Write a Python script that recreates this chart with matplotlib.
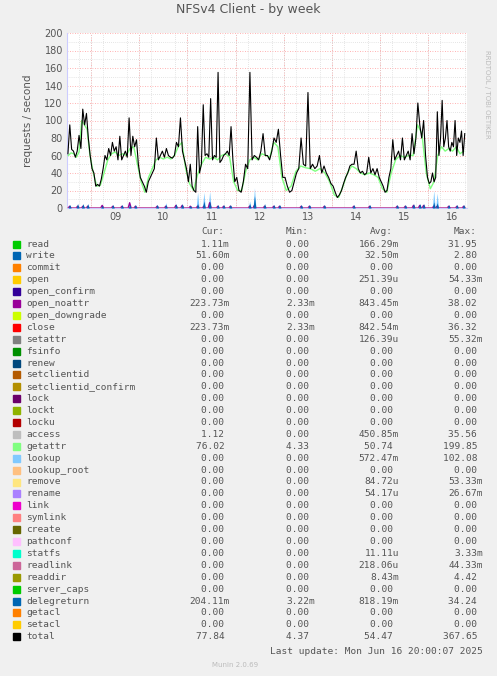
import matplotlib
matplotlib.use('Agg')
import matplotlib.pyplot as plt
import numpy as np

# ---------------- data ----------------
t_start, t_end = 8.5, 16.8      # days of June
# segment boundaries (days) and values per segment (evenly spread within each)
seg_edges = [8.5, 9, 10, 11, 12, 13, 14, 15, 16, 16.77]
total_segs = [
    [62, 95, 67, 65, 58, 65, 83, 68, 113, 95, 108, 80, 60],
    [45, 40, 25, 27, 25, 33, 45, 60, 55, 68, 60, 75, 65, 70, 55, 82, 55, 60, 65, 58, 103, 60, 82, 70, 78, 50],
    [35, 30, 25, 18, 30, 35, 40, 45, 80, 55, 60, 65, 58, 68, 60, 58, 57, 60, 75, 70, 103, 65, 55, 45],
    [30, 50, 25, 20, 18, 93, 40, 50, 118, 60, 62, 58, 125, 55, 60, 58, 155, 52, 55, 60, 62, 65, 60, 93, 55, 30],
    [35, 20, 18, 30, 50, 45, 155, 55, 60, 58, 55, 65, 85, 60, 60, 55, 65, 80, 75, 90, 60, 35],
    [35, 25, 18, 20, 30, 40, 45, 80, 50, 48, 132, 45, 50, 45, 48, 60, 40, 48, 40, 35, 28],
    [25, 18, 12, 15, 20, 28, 35, 40, 48, 50, 50, 65, 45, 40, 42, 38, 40, 58, 40, 45, 38, 45, 35],
    [30, 25, 18, 20, 35, 45, 78, 55, 60, 65, 55, 80, 55, 60, 65, 55, 85, 62, 80, 120, 95, 80, 100, 60, 35],
    [28, 30, 40, 30, 35, 110, 60, 80, 123, 70, 80, 100, 70, 65, 75, 70, 100, 60, 80, 75, 88, 60, 85],
]
getattr_segs = [
    [60, 63, 62, 58, 64, 100, 95, 90, 62],
    [42, 25, 26, 40, 55, 62, 64, 60, 62, 60, 68, 70, 50],
    [30, 18, 35, 45, 55, 58, 56, 58, 56, 60, 70, 75, 45],
    [28, 20, 38, 50, 58, 56, 58, 55, 60, 62, 58, 30],
    [20, 20, 42, 55, 58, 55, 62, 60, 58, 75, 70, 35],
    [20, 25, 42, 48, 46, 45, 42, 45, 40, 30],
    [15, 12, 25, 40, 48, 45, 40, 38, 40, 38, 35],
    [22, 18, 40, 55, 60, 58, 60, 60, 95, 85, 40],
    [22, 30, 60, 70, 65, 68, 65, 70, 62, 65],
]
spike_t = [8.555, 8.72, 8.83, 8.93, 9.23, 9.45, 9.64, 9.80, 9.92, 10.37, 10.55, 10.76,
           10.89, 11.06, 11.21, 11.34, 11.46, 11.63, 11.75, 11.89, 12.29, 12.39, 12.60,
           12.79, 12.91, 13.36, 13.53, 13.84, 14.45, 14.78, 15.35, 15.52, 15.69, 15.82,
           15.90, 16.11, 16.18, 16.42, 16.59, 16.73]
lookup_h = [0, 0, 0, 0, 3, 0, 3, 0, 0, 4, 6, 0, 0, 0, 18, 18, 19, 0, 0, 0, 8, 23, 0,
            0, 0, 0, 0, 0, 0, 0, 0, 0, 0, 4, 0, 20, 17, 0, 0, 0]
deleg_h = [4, 5, 5, 5, 3, 4, 4, 4, 4, 4, 4, 5, 5, 3, 5, 8, 8, 4, 4, 4, 5, 14, 5,
           4, 4, 4, 4, 4, 4, 4, 4, 4, 5, 5, 5, 7, 6, 4, 4, 4]
close_h = [2, 2, 2, 2, 3, 2, 2, 6, 2, 2, 2, 3, 3, 2, 2, 2, 6, 2, 2, 2, 2, 3, 2,
           2, 2, 2, 2, 2, 2, 2, 2, 2, 3, 3, 3, 2, 2, 2, 2, 2]

names = ['read', 'write', 'commit', 'open', 'open_confirm', 'open_noattr', 'open_downgrade',
         'close', 'setattr', 'fsinfo', 'renew', 'setclientid', 'setclientid_confirm', 'lock',
         'lockt', 'locku', 'access', 'getattr', 'lookup', 'lookup_root', 'remove', 'rename',
         'link', 'symlink', 'create', 'pathconf', 'statfs', 'readlink', 'readdir',
         'server_caps', 'delegreturn', 'getacl', 'setacl', 'total']
colors = ['#00CC00', '#0066B3', '#FF8000', '#FFCC00', '#330099', '#990099', '#CCFF00',
          '#FF0000', '#808080', '#008F00', '#00487D', '#B35A00', '#B38F00', '#6B006B',
          '#8FB300', '#B30000', '#BEBEBE', '#80FF80', '#80C9FF', '#FFC080', '#FFE680',
          '#AA80FF', '#EE00CC', '#FF8080', '#666600', '#FFBFFF', '#00FFCC', '#CC6699',
          '#999900', '#00CC00', '#0066B3', '#FF8000', '#FFCC00', '#000000']
cur = ['1.11m', '51.60m', '0.00', '0.00', '0.00', '223.73m', '0.00', '223.73m', '0.00', '0.00',
       '0.00', '0.00', '0.00', '0.00', '0.00', '0.00', '1.12', '76.02', '0.00', '0.00', '0.00',
       '0.00', '0.00', '0.00', '0.00', '0.00', '0.00', '0.00', '0.00', '0.00', '204.11m',
       '0.00', '0.00', '77.84']
mins = ['0.00', '0.00', '0.00', '0.00', '0.00', '2.33m', '0.00', '2.33m', '0.00', '0.00',
        '0.00', '0.00', '0.00', '0.00', '0.00', '0.00', '0.00', '4.33', '0.00', '0.00', '0.00',
        '0.00', '0.00', '0.00', '0.00', '0.00', '0.00', '0.00', '0.00', '0.00', '3.22m',
        '0.00', '0.00', '4.37']
avgs = ['166.29m', '32.50m', '0.00', '251.39u', '0.00', '843.45m', '0.00', '842.54m',
        '126.39u', '0.00', '0.00', '0.00', '0.00', '0.00', '0.00', '0.00', '450.85m', '50.74',
        '572.47m', '0.00', '84.72u', '54.17u', '0.00', '0.00', '0.00', '0.00', '11.11u',
        '218.06u', '8.43m', '0.00', '818.19m', '0.00', '0.00', '54.47']
maxs = ['31.95', '2.80', '0.00', '54.33m', '0.00', '38.02', '0.00', '36.32', '55.32m', '0.00',
        '0.00', '0.00', '0.00', '0.00', '0.00', '0.00', '35.56', '199.85', '102.08', '0.00',
        '53.33m', '26.67m', '0.00', '0.00', '0.00', '0.00', '3.33m', '44.33m', '4.42', '0.00',
        '34.24', '0.00', '0.00', '367.65']


def seg_times(segs):
    ts, vs = [], []
    for a, b, s in zip(seg_edges[:-1], seg_edges[1:], segs):
        n = len(s)
        ts.extend(a + (b - a) * (np.arange(n) + 0.5) / n)
        vs.extend(s)
    return np.array(ts), np.array(vs)


# ---------------- plot ----------------
W, H = 497, 676
fig = plt.figure(figsize=(W / 100, H / 100), dpi=100, facecolor='#F0F0F0')
ax = fig.add_axes([67 / W, 1 - 208 / H, 400 / W, 175 / H], facecolor='white')

st = np.array(spike_t)


def spikes(h):
    x = np.repeat(st, 3) + np.tile([-0.03, 0, 0.03], len(st))
    y = np.column_stack([np.zeros(len(st)), h, np.zeros(len(st))]).ravel()
    return x, y


xs, ys = spikes(lookup_h)
ax.fill_between(xs, ys, color='#80C9FF', lw=0, zorder=2)
xs, ys = spikes(close_h)
ax.plot(xs, ys, color='#990099', lw=1.0, zorder=3)
xs, ys = spikes(deleg_h)
ax.fill_between(xs, ys, color='#0066B3', lw=0, zorder=4)
ax.axhline(0.3, color='#FFC080', lw=1, zorder=3)
tg, vg = seg_times(getattr_segs)
ax.plot(tg, vg, color='#80FF80', lw=1, zorder=5)
tt, vt = seg_times(total_segs)
ax.plot(tt, vt, color='black', lw=0.8, zorder=6)

ax.set_xlim(t_start, t_end)
ax.set_ylim(0, 200)
ax.set_yticks(np.arange(0, 201, 20))
ax.set_yticks(np.arange(0, 201, 10), minor=True)
ax.set_xticks(np.arange(9, 17) + 0.5)
ax.set_xticklabels(['09', '10', '11', '12', '13', '14', '15', '16'])
ax.set_xticks(np.arange(8.5, 16.8, 0.25), minor=True)
ax.tick_params(length=0, which='both', labelsize=7, colors='#555555', pad=3)
for v in np.arange(9, 17):
    ax.axvline(v, color='#FF9999', lw=0.6, ls=(0, (1, 2)), zorder=1)
for v in np.arange(20, 201, 20):
    ax.axhline(v, color='#FF9999', lw=0.6, ls=(0, (1, 2)), zorder=1)
ax.grid(True, which='minor', color='#CCCCCC', lw=0.5, ls=(0, (1, 2)), zorder=0)
for s in ['top', 'right']:
    ax.spines[s].set_visible(False)
ax.spines['left'].set_color('#CCCCFF')
ax.spines['bottom'].set_color('#CCCCFF')
ax.set_ylabel('requests / second', fontsize=7.5, color='#555555', labelpad=8)

fig.text(0.5, 1 - 10 / H, 'NFSv4 Client - by week', ha='center', va='center',
         fontsize=9, color='#555555')
fig.text(487 / W, 1 - 50 / H, 'RRDTOOL / TOBI OETIKER', rotation=270, ha='center',
         va='top', fontsize=5, color='#BBBBBB')

mono = 'DejaVu Sans Mono'
fs = 6.8
y0 = 232
cols = [230, 315, 399, 483]
for cx, hd in zip(cols, ['Cur:', 'Min:', 'Avg:', 'Max:']):
    fig.text((cx - 6) / W, 1 - y0 / H, hd, ha='right', va='center', family=mono,
             fontsize=fs, color='#555555')


def fmt(s):
    return s if s[-1] in 'mu' else s + ' '


for i, n in enumerate(names):
    y = 1 - (y0 + 12 + 11.9 * i) / H
    fig.patches.append(plt.Rectangle((13 / W, y - 3.5 / H), 7 / W, 7 / H,
                                     transform=fig.transFigure, color=colors[i]))
    fig.text(26 / W, y, n, ha='left', va='center', family=mono, fontsize=fs, color='#555555')
    for cx, col in zip(cols, [cur, mins, avgs, maxs]):
        fig.text(cx / W, y, fmt(col[i]), ha='right', va='center', family=mono,
                 fontsize=fs, color='#555555')

fig.text(483 / W, 1 - 652 / H, 'Last update: Mon Jun 16 20:00:07 2025', ha='right',
         va='center', family=mono, fontsize=fs, color='#555555')
fig.text(235 / W, 1 - 665 / H, 'Munin 2.0.69', ha='center', va='center',
         fontsize=5, color='#BBBBBB')

fig.savefig('out.png', dpi=100, facecolor=fig.get_facecolor())
